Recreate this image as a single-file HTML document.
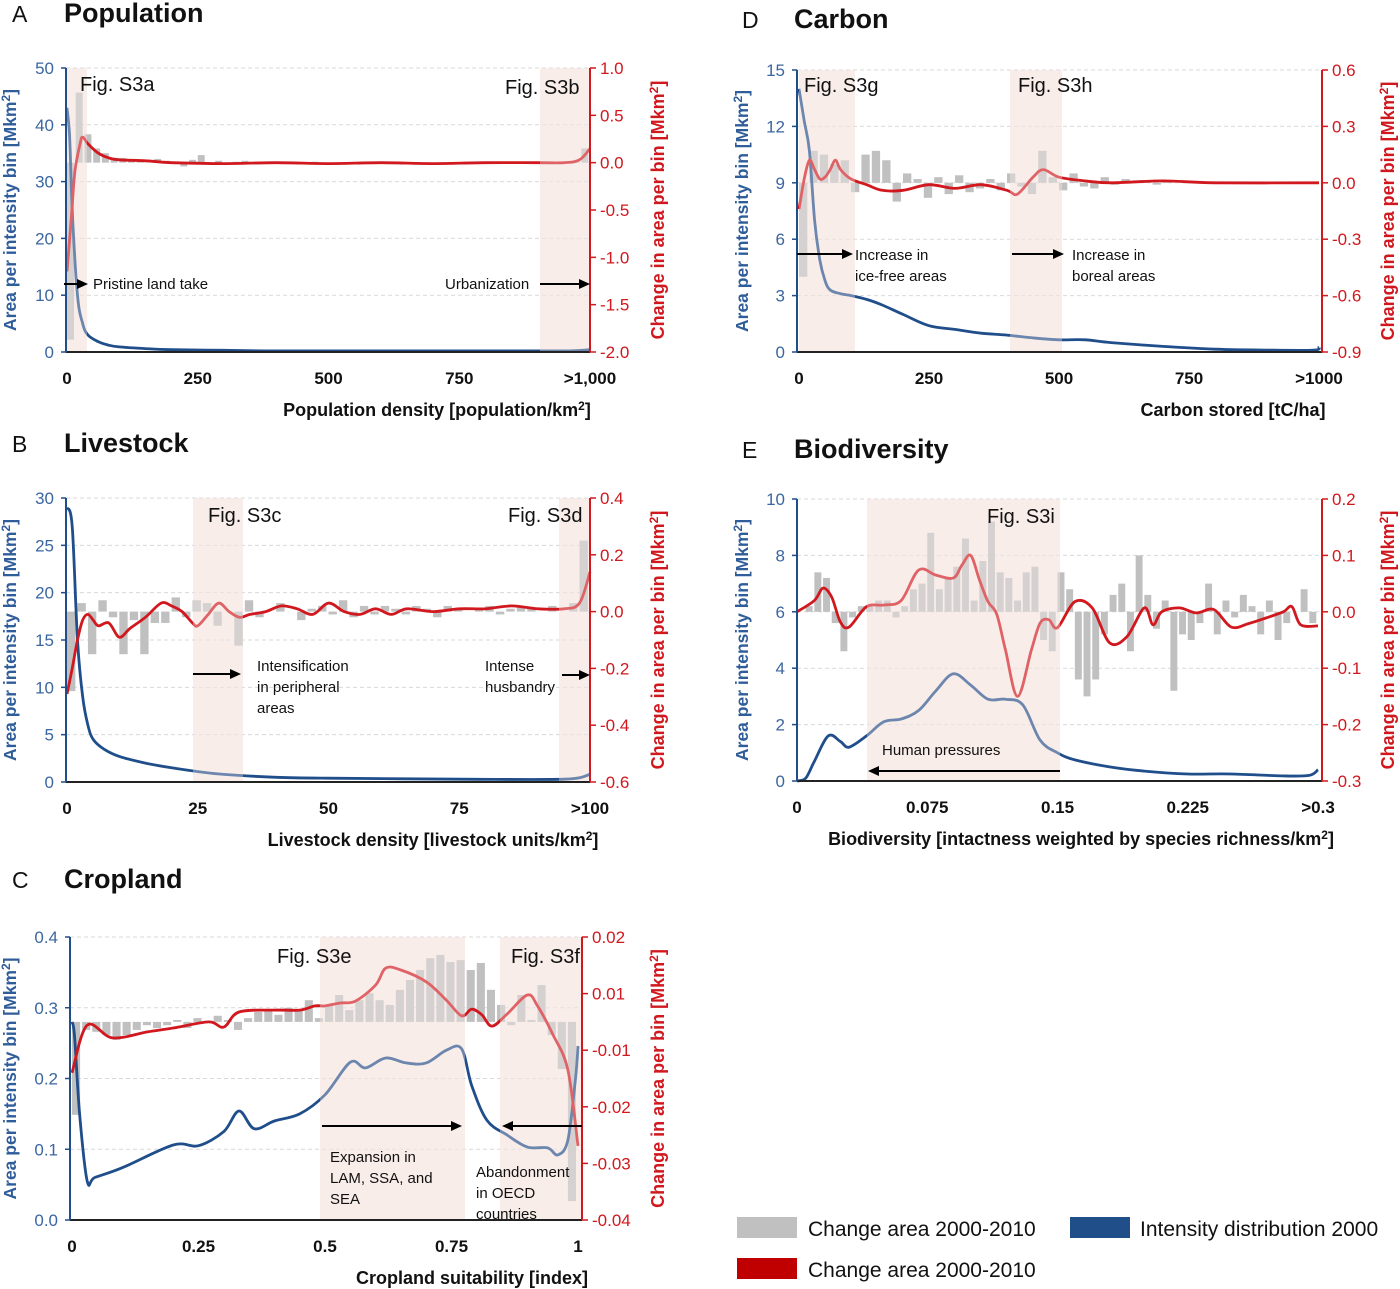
<!DOCTYPE html>
<html><head><meta charset="utf-8"><style>
html,body{margin:0;padding:0;background:#fff;}
svg{display:block;font-family:"Liberation Sans",sans-serif;}
</style></head><body>
<svg id="fig" width="1400" height="1289" viewBox="0 0 1400 1289" xmlns="http://www.w3.org/2000/svg"></svg>
<script>
// ---------- DATA ----------
// Panel A: Population
const popBlueX=[0,5,10,20,30,40,60,80,100,150,200,300,400,600,800,950,1000];
const popBlueY=[43,38,25,10,5,3,1.8,1.2,0.9,0.6,0.4,0.3,0.2,0.2,0.2,0.2,0.4];
const popRedX=[0,8,15,25,30,40,60,80,100,150,200,300,400,500,600,700,800,900,950,980,1000];
const popRedY=[-1.15,-0.6,-0.1,0.2,0.27,0.2,0.1,0.05,0.03,0.02,0.0,-0.01,0,-0.01,0,-0.01,0,0,0,0.03,0.15];
const popBars=[-1.87,0.74,0.3,0.15,0.1,0.05,0.05,0.03,0.02,0.0,0.04,0.02,0.01,-0.04,0.03,0.08,-0.02,0.02,0.0,0.01,0.02,0.0,0.01,0,0.01,0,0,0,0.01,0,0,0,0,0,0,0,0.01,0,0,0,0,0,0,0,0,0,0,0,0,0,0,0,0,0,0,0,0,0,0.02,0.15];
// Panel B: Livestock
const lvBlueX=[0,1,2,3,4,5,7,10,15,20,25,30,40,50,75,95,100];
const lvBlueY=[29,27,15,9,6,4.5,3.5,2.7,2,1.5,1.1,0.8,0.5,0.4,0.3,0.3,0.8];
const lvRedX=[0,1,2,3,4,5,6,8,10,12,15,18,20,22,24,25,27,29,31,33,35,38,41,44,47,50,53,56,59,62,65,70,75,80,85,90,95,98,100];
const lvRedY=[-0.29,-0.2,-0.1,-0.03,-0.01,-0.03,-0.05,-0.04,-0.09,-0.06,-0.02,0.03,0.02,0,-0.04,-0.05,-0.01,0.03,0,-0.02,-0.01,0,0.02,0.01,-0.01,0.03,0,-0.01,0.01,-0.01,0.01,0,0.01,0.01,0.02,0.01,0.01,0.03,0.14];
const lvBars=[-0.28,0.03,-0.15,0.04,-0.02,-0.15,-0.03,-0.15,-0.04,-0.04,0.05,-0.02,0.04,0.03,-0.05,0.0,-0.12,0.04,-0.02,0.0,0.03,0.0,-0.03,0.01,0.02,-0.01,0.04,-0.02,0.02,-0.01,0.02,0.01,-0.01,0.02,0.01,-0.02,0.02,0.01,0.0,0.01,0.02,-0.01,0.01,0.02,0.01,0.0,0.02,0.0,0.03,0.25];
// Panel C: Cropland
const crBlueX=[0,0.005,0.015,0.03,0.045,0.1,0.2,0.25,0.3,0.33,0.36,0.4,0.45,0.5,0.55,0.58,0.62,0.66,0.7,0.74,0.77,0.79,0.82,0.86,0.9,0.94,0.96,0.98,0.995,1.0];
const crBlueY=[0.28,0.26,0.15,0.055,0.06,0.074,0.106,0.105,0.125,0.154,0.129,0.14,0.15,0.177,0.223,0.215,0.229,0.222,0.222,0.24,0.242,0.19,0.141,0.12,0.103,0.102,0.092,0.113,0.2,0.246];
const crRedX=[0,0.03,0.08,0.15,0.2,0.27,0.3,0.33,0.4,0.45,0.48,0.5,0.53,0.56,0.6,0.62,0.65,0.7,0.74,0.77,0.79,0.81,0.83,0.86,0.9,0.92,0.95,0.98,1.0];
const crRedY=[-0.0088,0.0013,-0.0014,-0.0001,0.0007,0.002,0.0009,0.0041,0.0045,0.0045,0.0054,0.0054,0.006,0.0064,0.0098,0.0134,0.013,0.0105,0.0066,0.0033,0.0047,0.0035,0.0011,0.0037,0.0077,0.0054,-0.0006,-0.0082,-0.0243];
const crBars=[-0.0177,0.0003,-0.0001,-0.0008,-0.0018,-0.0008,0.0003,0.0013,0.0007,0.0013,0.0024,0.0007,0.0028,0.002,0.0033,0.0024,0.0003,0.0028,0.0041,0.0045,0.0035,0.005,0.0045,0.0066,0.0028,0.0056,0.0077,0.0045,0.0066,0.0081,0.0066,0.0056,0.0088,0.0109,0.013,0.0155,0.0162,0.0147,0.0151,0.013,0.0145,0.0088,0.0056,0.0013,0.0077,0.0024,0.0098,-0.0008,-0.008,-0.036];
// Panel D: Carbon
const cbBlueX=[0,10,20,30,40,50,60,80,100,130,160,200,250,300,350,400,450,500,550,600,700,800,900,990,1000];
const cbBlueY=[14,12.3,10.7,7,4.9,3.8,3.3,3.1,3.0,2.8,2.5,2.0,1.4,1.2,1.0,0.9,0.75,0.65,0.65,0.5,0.3,0.15,0.1,0.1,0.27];
const cbRedX=[0,10,20,30,40,50,60,70,80,100,130,160,200,250,300,350,400,420,450,470,500,550,600,700,800,1000];
const cbRedY=[-0.14,0.02,0.12,0.07,0.02,0.03,0.07,0.12,0.07,0.02,-0.01,-0.04,-0.04,-0.01,-0.03,-0.01,-0.04,-0.06,0.03,0.07,0.03,0.01,0,0.01,0,0];
const cbBars=[-0.5,0.17,0.15,0.1,0.12,-0.05,0.15,0.17,0.12,-0.1,0.05,0.02,-0.08,0.03,-0.06,0.04,-0.05,-0.03,0.02,-0.04,0.05,-0.02,-0.06,0.17,0.03,-0.04,0.05,-0.02,-0.03,0.03,-0.01,0.02,0.0,0.01,-0.01,0.01,0,0,0.01,0,0,0,0,0,0,0,0,0,0,0];
// Panel E: Biodiversity
const bdBlueX=[0,0.005,0.01,0.018,0.025,0.03,0.04,0.05,0.06,0.07,0.08,0.09,0.1,0.11,0.12,0.13,0.14,0.15,0.16,0.18,0.2,0.225,0.25,0.28,0.295,0.3];
const bdBlueY=[0,0.1,0.7,1.6,1.4,1.2,1.6,2.1,2.2,2.5,3.2,3.8,3.4,2.9,2.9,2.7,1.45,1.0,0.75,0.5,0.35,0.25,0.25,0.18,0.2,0.4];
const bdRedX=[0,0.01,0.015,0.02,0.025,0.03,0.04,0.05,0.06,0.07,0.08,0.09,0.095,0.1,0.105,0.11,0.115,0.12,0.127,0.135,0.14,0.145,0.15,0.16,0.17,0.18,0.19,0.2,0.205,0.21,0.22,0.23,0.24,0.25,0.26,0.27,0.28,0.285,0.29,0.3];
const bdRedY=[0,0.02,0.042,0.026,-0.018,-0.027,0.009,0.012,0.02,0.074,0.065,0.06,0.083,0.1,0.057,0.018,-0.004,-0.067,-0.15,-0.067,-0.02,-0.014,-0.028,0.018,0.007,-0.055,-0.044,0.007,-0.023,0,0.007,-0.002,0.004,-0.027,-0.021,-0.011,0,0.009,-0.023,-0.025];
const bdBars=[0,0.01,0.07,0.06,-0.02,-0.07,-0.01,0.01,0.01,0.02,0.02,-0.01,0.01,0.04,0.05,0.14,0.04,0.06,0.08,0.13,0.02,0.09,0.16,0.07,0.06,0.02,0.07,0.08,-0.05,-0.07,0.07,0.04,-0.12,-0.15,-0.12,-0.04,0.03,0.05,-0.07,0.1,0.03,-0.03,0.02,-0.14,-0.04,-0.05,-0.02,0.05,-0.04,0.02,-0.01,0.03,0.01,-0.04,0.02,-0.05,-0.02,0.0,0.04,-0.02];

// tick labels
const popXTicks=["0","250","500","750",">1,000"], popXVals=[0,250,500,750,1000];
const popLTicks=[0,10,20,30,40,50], popRTicks=["1.0","0.5","0.0","-0.5","-1.0","-1.5","-2.0"];
const lvXTicks=["0","25","50","75",">100"], lvXVals=[0,25,50,75,100];
const lvLTicks=[0,5,10,15,20,25,30], lvRTicks=["0.4","0.2","0.0","-0.2","-0.4","-0.6"];
const crXTicks=["0","0.25","0.5","0.75","1"], crXVals=[0,0.25,0.5,0.75,1];
const crLTicks=["0.0","0.1","0.2","0.3","0.4"], crRTicks=["0.02","0.01","-0.01","-0.02","-0.03","-0.04"];
const cbXTicks=["0","250","500","750",">1000"], cbXVals=[0,250,500,750,1000];
const cbLTicks=[0,3,6,9,12,15], cbRTicks=["0.6","0.3","0.0","-0.3","-0.6","-0.9"];
const bdXTicks=["0","0.075","0.15","0.225",">0.3"], bdXVals=[0,0.075,0.15,0.225,0.3];
const bdLTicks=[0,2,4,6,8,10], bdRTicks=["0.2","0.1","0.0","-0.1","-0.2","-0.3"];

const BLUE="#1f4e8a", RED="#d0181e", GRAY="#c0c0c0", SHADE="#f8ebe8";
const NS="http://www.w3.org/2000/svg";
const svg=document.getElementById('fig');
function el(tag,attrs,parent,text){const e=document.createElementNS(NS,tag);for(const k in attrs)e.setAttribute(k,attrs[k]);if(text!==undefined)e.textContent=text;(parent||svg).appendChild(e);return e;}
function smooth(pts){let d="M"+pts[0][0].toFixed(1)+","+pts[0][1].toFixed(1);
 for(let i=0;i<pts.length-1;i++){const p0=pts[Math.max(0,i-1)],p1=pts[i],p2=pts[i+1],p3=pts[Math.min(pts.length-1,i+2)];
  const c1=[p1[0]+(p2[0]-p0[0])/6,p1[1]+(p2[1]-p0[1])/6],c2=[p2[0]-(p3[0]-p1[0])/6,p2[1]-(p3[1]-p1[1])/6];
  d+=" C"+c1[0].toFixed(1)+","+c1[1].toFixed(1)+" "+c2[0].toFixed(1)+","+c2[1].toFixed(1)+" "+p2[0].toFixed(1)+","+p2[1].toFixed(1);}
 return d;}

function panel(P){
 const g=el('g',{});
 
 
 const sx=v=>P.px0+(v-P.xmin)/(P.xmax-P.xmin)*(P.px1-P.px0);
 const sl=v=>P.yB-(v-P.lmin)/(P.lmax-P.lmin)*(P.yB-P.yT);
 const sr=v=>P.yB-(v-P.rmin)/(P.rmax-P.rmin)*(P.yB-P.yT);
 P.shades.forEach(s=>{const r=el('rect',{x:s[0],y:P.yT,width:s[1]-s[0],height:P.yB-P.yT,fill:SHADE},g);
  
  });
 const nL=P.lTicks.length;
 for(let i=1;i<nL;i++){const y=P.yB-i*(P.yB-P.yT)/(nL-1);
  const l=el('line',{x1:P.ax0,x2:P.ax1,y1:y,y2:y,stroke:"#d9d9d9","stroke-width":1,"stroke-dasharray":"4,3"},g);
  
  }
 const n=P.bars.length,bw=(P.px1-P.px0)/n,b0=sr(P.base);
 P.bars.forEach((v,i)=>{const y=sr(v);const r=el('rect',{x:P.px0+i*bw,y:Math.min(y,b0),width:bw*0.8,height:Math.abs(y-b0),fill:GRAY},g);
  
  });
 const bl=el('path',{d:smooth(P.bx.map((x,i)=>[sx(x),sl(P.by[i])])),fill:"none",stroke:BLUE,"stroke-width":2.8,"stroke-linejoin":"round"},g);
 
 
 const rl=el('path',{d:smooth(P.rx.map((x,i)=>[sx(x),sr(P.ry[i])])),fill:"none",stroke:RED,"stroke-width":2.8,"stroke-linejoin":"round"},g);
 
 
 P.shades.forEach(s=>{el('rect',{x:s[0],y:P.yT,width:s[1]-s[0],height:P.yB-P.yT,fill:"#fbf1ef",opacity:0.35},g);});
 el('line',{x1:P.ax0,x2:P.ax1,y1:P.yB,y2:P.yB,stroke:"#222","stroke-width":2},g);
 el('line',{x1:P.ax0,x2:P.ax0,y1:P.yT,y2:P.yB,stroke:BLUE,"stroke-width":2},g);
 el('line',{x1:P.ax1,x2:P.ax1,y1:P.yT,y2:P.yB,stroke:RED,"stroke-width":2},g);
 P.lTicks.forEach((t,i)=>{const y=P.yB-i*(P.yB-P.yT)/(nL-1);
  el('line',{x1:P.ax0-5,x2:P.ax0,y1:y,y2:y,stroke:BLUE,"stroke-width":1.5},g);
  const tx=el('text',{x:P.ax0-12,y:y+6,"text-anchor":"end","font-size":17,fill:"#3b66a0"},g,String(t));
  
  });
 const nR=P.rTicks.length;
 P.rTicks.forEach((t,i)=>{const y=P.yT+i*(P.yB-P.yT)/(nR-1);
  el('line',{x1:P.ax1,x2:P.ax1+6,y1:y,y2:y,stroke:RED,"stroke-width":1.5},g);
  const tx=el('text',{x:P.ax1+10,y:y+6,"font-size":17,fill:RED},g,t);
  
  });
 P.xTicks.forEach((t,i)=>{const tx=el('text',{x:sx(P.xVals[i]),y:P.yB+32,"text-anchor":"middle","font-size":17,"font-weight":"bold",fill:"#111"},g,t);
  
  });
 const cy=(P.yT+P.yB)/2;
 const lt=el('text',{x:0,y:0,transform:`translate(${P.ltx},${cy}) rotate(-90)`,"text-anchor":"middle","font-size":17.5,"font-weight":"bold",fill:"#2f5d9a"},g);
 lt.innerHTML='Area per intensity bin [Mkm<tspan font-size="12" dy="-6">2</tspan><tspan dy="6">]</tspan>';
 
 
 const rt=el('text',{x:0,y:0,transform:`translate(${P.rtx},${cy}) rotate(-90)`,"text-anchor":"middle","font-size":18,"font-weight":"bold",fill:RED},g);
 rt.innerHTML='Change in area per bin [Mkm<tspan font-size="12" dy="-6">2</tspan><tspan dy="6">]</tspan>';
 
 
 const xt=el('text',{x:P.xtx,y:P.yB+64,"text-anchor":"middle","font-size":18,"font-weight":"bold",fill:"#111"},g);
 xt.innerHTML=P.xtitle;
 
 
 const lb=el('text',{x:P.lx,y:P.ly,"font-size":23,fill:"#111"},g,P.letter);
 
 
 const tt=el('text',{x:P.lx+52,y:P.ly,"font-size":27,"font-weight":"bold",fill:"#111"},g,P.title);
 
 
 P.figs.forEach(f=>{const t=el('text',{x:f[0],y:f[1],"font-size":20,fill:"#111"},g,f[2]);
  
  });
 P.notes.forEach(f=>{f[2].forEach((s,i)=>{const t=el('text',{x:f[0],y:f[1]+i*21,"font-size":15,fill:"#111"},g,s);
  
  });});
 P.arrows.forEach(a=>{const dir=Math.sign(a[1]-a[0]);
  el('line',{x1:a[0],x2:a[1]-dir*8,y1:a[2],y2:a[2],stroke:"#000","stroke-width":2},g);
  el('polygon',{points:`${a[1]},${a[2]} ${a[1]-dir*11},${a[2]-5} ${a[1]-dir*11},${a[2]+5}`,fill:"#000"},g);});
}

const sup='<tspan font-size="12" dy="-6">2</tspan><tspan dy="6">]</tspan>';
panel({name:"panel-population",letter:"A",title:"Population",lx:12,ly:22,ax0:66,ax1:590,px0:67,px1:590,yT:68,yB:352,
 xmin:0,xmax:1000,lmin:0,lmax:50,rmin:-2,rmax:1,base:0,bars:popBars,bx:popBlueX,by:popBlueY,rx:popRedX,ry:popRedY,
 shades:[[67,87],[540,590]],lTicks:popLTicks,rTicks:popRTicks,xTicks:popXTicks,xVals:popXVals,ltx:16,rtx:664,xtx:437,
 xtitle:"Population density [population/km"+sup,figs:[[80,91,"Fig. S3a"],[505,94,"Fig. S3b"]],
 notes:[[93,289,["Pristine land take"]],[445,289,["Urbanization"]]],arrows:[[64,88,284],[540,590,284]]});
panel({name:"panel-livestock",letter:"B",title:"Livestock",lx:12,ly:452,ax0:66,ax1:590,px0:67,px1:590,yT:498,yB:782,
 xmin:0,xmax:100,lmin:0,lmax:30,rmin:-0.6,rmax:0.4,base:0,bars:lvBars,bx:lvBlueX,by:lvBlueY,rx:lvRedX,ry:lvRedY,
 shades:[[193,243],[559,590]],lTicks:lvLTicks,rTicks:lvRTicks,xTicks:lvXTicks,xVals:lvXVals,ltx:16,rtx:664,xtx:433,
 xtitle:"Livestock density [livestock units/km"+sup,figs:[[208,522,"Fig. S3c"],[508,522,"Fig. S3d"]],
 notes:[[257,671,["Intensification","in peripheral","areas"]],[485,671,["Intense","husbandry"]]],arrows:[[193,241,674],[562,590,675]]});
panel({name:"panel-cropland",letter:"C",title:"Cropland",lx:12,ly:888,ax0:70,ax1:582,px0:72,px1:578,yT:937,yB:1220,
 xmin:0,xmax:1,lmin:0,lmax:0.4,rmin:-0.04,rmax:0.02,base:0.002,bars:crBars,bx:crBlueX,by:crBlueY,rx:crRedX,ry:crRedY,
 shades:[[320,465],[500,582]],lTicks:crLTicks,rTicks:crRTicks,xTicks:crXTicks,xVals:crXVals,ltx:16,rtx:664,xtx:472,
 xtitle:"Cropland suitability [index]",figs:[[277,963,"Fig. S3e"],[511,963,"Fig. S3f"]],
 notes:[[330,1162,["Expansion in","LAM, SSA, and","SEA"]],[476,1177,["Abandonment","in OECD","countries"]]],arrows:[[322,462,1126],[582,502,1126]]});
panel({name:"panel-carbon",letter:"D",title:"Carbon",lx:742,ly:28,ax0:797,ax1:1322,px0:799,px1:1319,yT:70,yB:352,
 xmin:0,xmax:1000,lmin:0,lmax:15,rmin:-0.9,rmax:0.6,base:0,bars:cbBars,bx:cbBlueX,by:cbBlueY,rx:cbRedX,ry:cbRedY,
 shades:[[799,855],[1010,1062]],lTicks:cbLTicks,rTicks:cbRTicks,xTicks:cbXTicks,xVals:cbXVals,ltx:748,rtx:1394,xtx:1233,
 xtitle:"Carbon stored [tC/ha]",figs:[[804,92,"Fig. S3g"],[1018,92,"Fig. S3h"]],
 notes:[[855,260,["Increase in","ice-free areas"]],[1072,260,["Increase in","boreal areas"]]],arrows:[[797,853,254],[1012,1064,254]]});
panel({name:"panel-biodiversity",letter:"E",title:"Biodiversity",lx:742,ly:458,ax0:797,ax1:1322,px0:797,px1:1318,yT:499,yB:781,
 xmin:0,xmax:0.3,lmin:0,lmax:10,rmin:-0.3,rmax:0.2,base:0,bars:bdBars,bx:bdBlueX,by:bdBlueY,rx:bdRedX,ry:bdRedY,
 shades:[[867,1060]],lTicks:bdLTicks,rTicks:bdRTicks,xTicks:bdXTicks,xVals:bdXVals,ltx:748,rtx:1394,xtx:1081,
 xtitle:"Biodiversity [intactness weighted by species richness/km"+sup,figs:[[987,523,"Fig. S3i"]],
 notes:[[882,755,["Human pressures"]]],arrows:[[1060,868,771]]});

const leg=el('g',{});


[[737,1217,GRAY,"Change area 2000-2010",808],[737,1258,"#c00000","Change area 2000-2010",808],[1070,1217,"#1f4e89","Intensity distribution 2000",1140]].forEach(e=>{
 const r=el('rect',{x:e[0],y:e[1],width:60,height:21,fill:e[2]},leg);
 
 
 const t=el('text',{x:e[4],y:e[1]+19,"font-size":21,fill:"#111"},leg,e[3]);
 
 });
</script>
</body></html>
